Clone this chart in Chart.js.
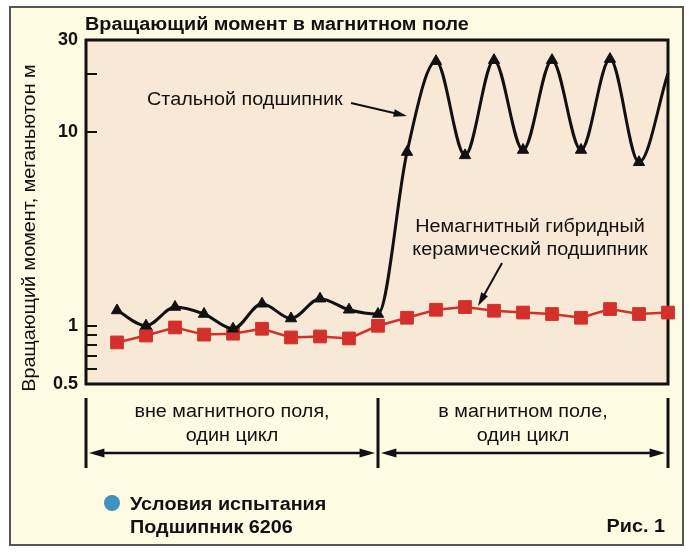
<!DOCTYPE html>
<html>
<head>
<meta charset="utf-8">
<script src="https://cdn.jsdelivr.net/npm/chart.js@4.4.1/dist/chart.umd.min.js"></script>
<style>
html, body { margin: 0; padding: 0; background: #fff; }
#wrap { width: 696px; height: 555px; }
</style>
</head>
<body>
<div id="wrap"><canvas id="torqueChart" width="696" height="555"></canvas></div>
<script>
/* ===== data ===== */

const samples = [1, 2, 3, 4, 5, 6, 7, 8, 9, 10, 11, 12, 13, 14, 15, 16, 17, 18, 19, 20];

const steelTorque = [1.2, 1.0, 1.25, 1.15, 0.965, 1.3, 1.09, 1.38, 1.21, 1.15,
                     7.9, 23.3, 7.6, 23.6, 8.1, 23.6, 8.1, 23.9, 7.0, 20.2];

const ceramicTorque = [0.82, 0.89, 0.98, 0.90, 0.91, 0.965, 0.87, 0.88, 0.86, 1.0,
                       1.10, 1.21, 1.25, 1.196, 1.17, 1.15, 1.10, 1.22, 1.15, 1.17];

const yTicks = [0.5, 0.6, 0.7, 0.8, 0.9, 1, 10, 20, 30];
const yLabels = [0.5, 1, 10, 30];

/* ===== styles ===== */

const FONT = "'Liberation Sans', Arial, sans-serif";
const RED = "#d3302b";
const INK = "#111";
const STRETCH = 1.1;   // the original lettering is a bit wider than Arial

function arrow(ctx, x1, y1, x2, y2, width, head){
    const a = Math.atan2(y2 - y1, x2 - x1);
    ctx.save();
    ctx.strokeStyle = INK;
    ctx.fillStyle = INK;
    ctx.lineWidth = width;
    ctx.beginPath();
    ctx.moveTo(x1, y1);
    ctx.lineTo(x2 - Math.cos(a) * head * 0.8, y2 - Math.sin(a) * head * 0.8);
    ctx.stroke();
    ctx.beginPath();
    ctx.moveTo(x2, y2);
    ctx.lineTo(x2 - Math.cos(a - 0.28) * head, y2 - Math.sin(a - 0.28) * head);
    ctx.lineTo(x2 - Math.cos(a + 0.28) * head, y2 - Math.sin(a + 0.28) * head);
    ctx.closePath();
    ctx.fill();
    ctx.restore();
}

function text(ctx, str, x, y, size, bold, align, rotate){
    ctx.save();
    ctx.translate(x, y);
    if(rotate) ctx.rotate(rotate);
    ctx.scale(STRETCH, 1);
    ctx.font = (bold ? "bold " : "") + size + "px " + FONT;
    ctx.textAlign = align || "left";
    ctx.textBaseline = "middle";
    ctx.fillStyle = INK;
    ctx.fillText(str, 0, 0);
    ctx.restore();
}

const decor = {
    id: "decor",
    beforeDraw(chart){
        const ctx = chart.ctx;
        const a = chart.chartArea;
        ctx.save();
        ctx.fillStyle = "#fff";
        ctx.fillRect(0, 0, chart.width, chart.height);
        ctx.fillStyle = "#fefbe3";
        ctx.fillRect(10, 7, 673, 538);
        ctx.strokeStyle = "#555";
        ctx.lineWidth = 2;
        ctx.strokeRect(10, 7, 673, 538);
        ctx.fillStyle = "#f8e9d6";
        ctx.fillRect(a.left, a.top, a.right - a.left, a.bottom - a.top);
        ctx.restore();
    },
    beforeDatasetsDraw(chart){
        const ctx = chart.ctx;
        const a = chart.chartArea;
        const y = chart.scales.y;
        ctx.save();
        ctx.strokeStyle = INK;
        ctx.lineWidth = 3;
        ctx.strokeRect(a.left, a.top, a.right - a.left, a.bottom - a.top);
        ctx.lineWidth = 2;
        yTicks.forEach(v => {
            if(v === 0.5 || v === 30) return;
            const py = Math.round(y.getPixelForValue(v));
            ctx.beginPath();
            ctx.moveTo(a.left, py);
            ctx.lineTo(a.left + 11, py);
            ctx.stroke();
        });
        ctx.restore();
    },
    afterDraw(chart){
        const ctx = chart.ctx;
        const a = chart.chartArea;
        const x = chart.scales.x;
        ctx.save();

        text(ctx, "Вращающий момент в магнитном поле", 85, 25, 18, true);

        text(ctx, "Вращающий момент, меганьютон м", 30, 228, 18, false, "center", -Math.PI / 2);

        text(ctx, "Стальной подшипник", 147, 100, 18, false);
        arrow(ctx, 351, 103, 407, 116, 2, 14);

        text(ctx, "Немагнитный гибридный", 530, 227, 18, false, "center");
        text(ctx, "керамический подшипник", 530, 250, 18, false, "center");
        arrow(ctx, 502, 263, 478, 306, 2, 14);

        // bottom cycle markers
        const mid = Math.round(x.getPixelForValue(10));
        ctx.strokeStyle = INK;
        ctx.lineWidth = 3;
        [a.left, mid, a.right].forEach(px => {
            ctx.beginPath();
            ctx.moveTo(px, 398);
            ctx.lineTo(px, 468);
            ctx.stroke();
        });
        arrow(ctx, (a.left + mid) / 2, 453, a.left + 3, 453, 2.5, 16);
        arrow(ctx, (a.left + mid) / 2, 453, mid - 3, 453, 2.5, 16);
        arrow(ctx, (mid + a.right) / 2, 453, mid + 3, 453, 2.5, 16);
        arrow(ctx, (mid + a.right) / 2, 453, a.right - 3, 453, 2.5, 16);

        text(ctx, "вне магнитного поля,", (a.left + mid) / 2, 412, 18, false, "center");
        text(ctx, "один цикл", (a.left + mid) / 2, 436, 18, false, "center");
        text(ctx, "в магнитном поле,", (mid + a.right) / 2, 412, 18, false, "center");
        text(ctx, "один цикл", (mid + a.right) / 2, 436, 18, false, "center");

        ctx.fillStyle = "#3e92be";
        ctx.beginPath();
        ctx.arc(112, 503, 8, 0, Math.PI * 2);
        ctx.fill();
        text(ctx, "Условия испытания", 130, 505, 18, true);
        text(ctx, "Подшипник 6206", 130, 528, 18, true);
        text(ctx, "Рис. 1", 665, 527, 18, true, "right");

        ctx.restore();
    }
};

/* ===== chart ===== */

const steelPoints = samples.map((s, i) => ({ x: s, y: steelTorque[i] }));
const ceramicPoints = samples.map((s, i) => ({ x: s, y: ceramicTorque[i] }));

new Chart(document.getElementById("torqueChart"), {
    type: "line",
    data: {
        datasets: [
            {
                label: "Стальной подшипник",
                data: steelPoints,
                borderColor: INK,
                borderWidth: 3,
                cubicInterpolationMode: "monotone",
                pointStyle: "triangle",
                pointRadius: samples.map((s, i) => i === samples.length - 1 ? 0 : 6.5),
                pointBackgroundColor: INK,
                pointBorderColor: INK,
                pointBorderWidth: 1,
                clip: false
            },
            {
                label: "Немагнитный гибридный керамический подшипник",
                data: ceramicPoints,
                borderColor: RED,
                borderWidth: 2.5,
                tension: 0,
                pointStyle: "rect",
                pointRadius: 9,
                pointBackgroundColor: RED,
                pointBorderColor: RED,
                pointBorderWidth: 1,
                clip: false
            }
        ]
    },
    options: {
        responsive: false,
        animation: false,
        devicePixelRatio: 1,
        layout: {
            padding: { left: 0, top: 40, right: 28, bottom: 171 }
        },
        plugins: {
            legend: { display: false },
            tooltip: { enabled: false }
        },
        scales: {
            x: {
                type: "linear",
                min: -0.07,
                max: 20,
                display: false
            },
            y: {
                type: "logarithmic",
                min: 0.5,
                max: 30,
                afterBuildTicks: scale => {
                    scale.ticks = yTicks.map(v => ({ value: v }));
                },
                afterFit: scale => {
                    scale.width = 86;
                },
                grid: { display: false, drawTicks: false },
                border: { display: false },
                ticks: {
                    autoSkip: false,
                    padding: 8,
                    color: INK,
                    font: { family: FONT, size: 18, weight: "bold" },
                    callback: v => yLabels.includes(v) ? String(v) : ""
                }
            }
        }
    },
    plugins: [decor]
});
</script>
</body>
</html>
